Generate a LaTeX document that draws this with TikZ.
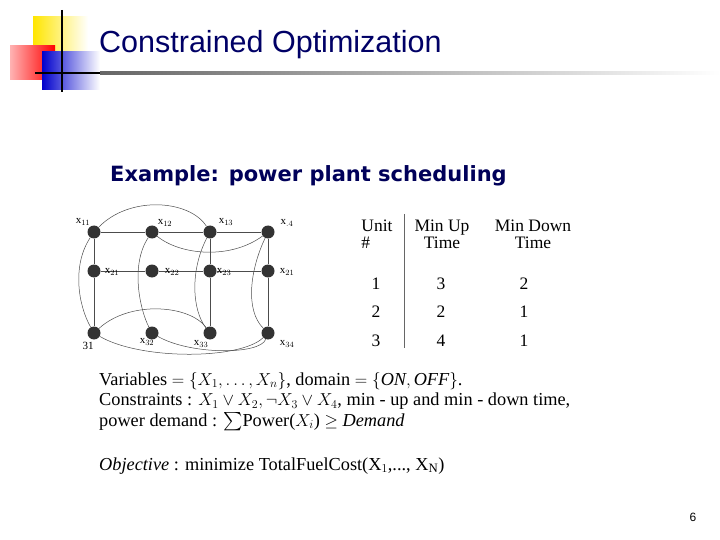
\documentclass[tikz,border=0pt]{standalone}
\usepackage{amsmath,amssymb}
\usepackage{fontspec}
\setmainfont{Liberation Serif}
\setsansfont{Liberation Sans}
\newfontfamily\dejab{DejaVu Sans}
\begin{document}
\begin{tikzpicture}[x=1pt,y=-1pt,
  dot/.style={circle,fill=black!80,minimum size=13pt,inner sep=0pt},
  lab/.style={font=\fontsize{11}{11}\selectfont\rmfamily,inner sep=0pt},
  cv/.style={draw=black!70,line width=0.5pt},
  tb/.style={font=\fontsize{17.5}{17}\selectfont\rmfamily,inner sep=0pt}]
\useasboundingbox (0,0) rectangle (720,540);
% logo
\shade[left color=yellow!80!orange,right color=white] (33,17) rectangle (88,55);
\shade[left color=red!30,right color=red] (10,46) rectangle (55,80);
\shade[left color=blue!80!black,right color=white] (42,52) rectangle (100,90);
\draw[line width=1.5pt] (62,10) -- (62,92);
\draw[line width=1.5pt] (35,73) -- (100,73);
\shade[left color=black!60,right color=white] (100,72) rectangle (720,74.5);
\node[anchor=west,font=\fontsize{30.5}{30}\selectfont\sffamily,text=blue!40!black,inner sep=0pt] (title) at (99,45) {Constrained Optimization};
\node[anchor=west,font=\fontsize{21}{21}\selectfont\dejab\bfseries,text=blue!35!black,inner sep=0pt] (ex) at (110,176) {Example: power plant scheduling};
% grid
\foreach \c/\x in {1/94,2/152,3/210,4/268}{
  \foreach \r/\y in {1/232,2/271,3/333}{
    \node[dot] (n\r\c) at (\x,\y) {};
  }}
\draw[cv] (n11)--(n12) (n12)--(n13) (n13)--(n14);
\draw[cv] (n21)--(n22) (n22)--(n23) (n23)--(n24);
\draw[cv] (n11)--(n21) (n21)--(n31) (n13)--(n23) (n23)--(n33) (n14)--(n24) (n24)--(n34);
\draw[cv] (n11) .. controls (130,195) and (190,200) .. (n13);
\draw[cv] (n12) .. controls (180,255) and (230,260) .. (n14);
\draw[cv] (n13) .. controls (190,270) and (192,310) .. (n33);
\draw[cv] (n14) .. controls (250,270) and (245,310) .. (n34);
\draw[cv] (n12) .. controls (130,265) and (140,310) .. (n32);
\draw[cv] (n11) .. controls (72,265) and (78,305) .. (n31);
\draw[cv] (n31) .. controls (130,300) and (190,305) .. (n33);
\draw[cv] (n32) .. controls (190,355) and (260,355) .. (n34);
\draw[cv] (n31) .. controls (140,360) and (240,360) .. (n34);
\node[lab] (l11) at (83,222) {x$_{11}$};
\node[lab] (l12) at (165,223) {x$_{12}$};
\node[lab] (l13) at (226,222) {x$_{13}$};
\node[lab] (l14) at (287,223) {x$_{.4}$};
\node[lab] (l21) at (112,272) {x$_{21}$};
\node[lab] (l22) at (172,272) {x$_{22}$};
\node[lab] (l23) at (224,272) {x$_{23}$};
\node[lab] (l24) at (287,272) {x$_{21}$};
\node[lab] (l31) at (88,346) {31};
\node[lab] (l32) at (147,342) {x$_{32}$};
\node[lab] (l33) at (201,344) {x$_{33}$};
\node[lab] (l34) at (287,344) {x$_{34}$};
% table
\draw[black!60] (404,214) -- (404,348);
\node[tb,align=left] (h1) at (377,234) {Unit\\\#};
\node[tb,align=center] (h2) at (442,234) {Min Up\\Time};
\node[tb,align=center] (h3) at (533,234) {Min Down\\Time};
\foreach \r/\y/\a/\b/\cc in {1/284/1/3/2,2/312/2/2/1,3/341/3/4/1}{
  \node[tb] (a\r) at (376,\y) {\a};
  \node[tb] (b\r) at (441,\y) {\b};
  \node[tb] (c\r) at (524,\y) {\cc};
}
% formulas
\node[anchor=north west,align=left,inner sep=0pt,font=\fontsize{18.3}{20.5}\selectfont\rmfamily] (form) at (99,372) {%
Variables $=\{X_1,\ldots,X_n\}$, domain $=\{\mathit{ON},\mathit{OFF}\}$.\\
Constraints : $X_1\vee X_2, \neg X_3\vee X_4$, min - up and min - down time,\\
power demand : $\textstyle\sum$Power($X_i$) $\geq$ \textit{Demand}};
\node[anchor=west,inner sep=0pt,font=\fontsize{18.3}{20}\selectfont\rmfamily] (obj) at (99,466) {\textit{Objective} : minimize TotalFuelCost(X$_1$,..., X$_\mathrm{N}$)};
\node[font=\fontsize{12}{12}\selectfont\sffamily,inner sep=0pt] (pg) at (693,517) {6};
\end{tikzpicture}
\end{document}
